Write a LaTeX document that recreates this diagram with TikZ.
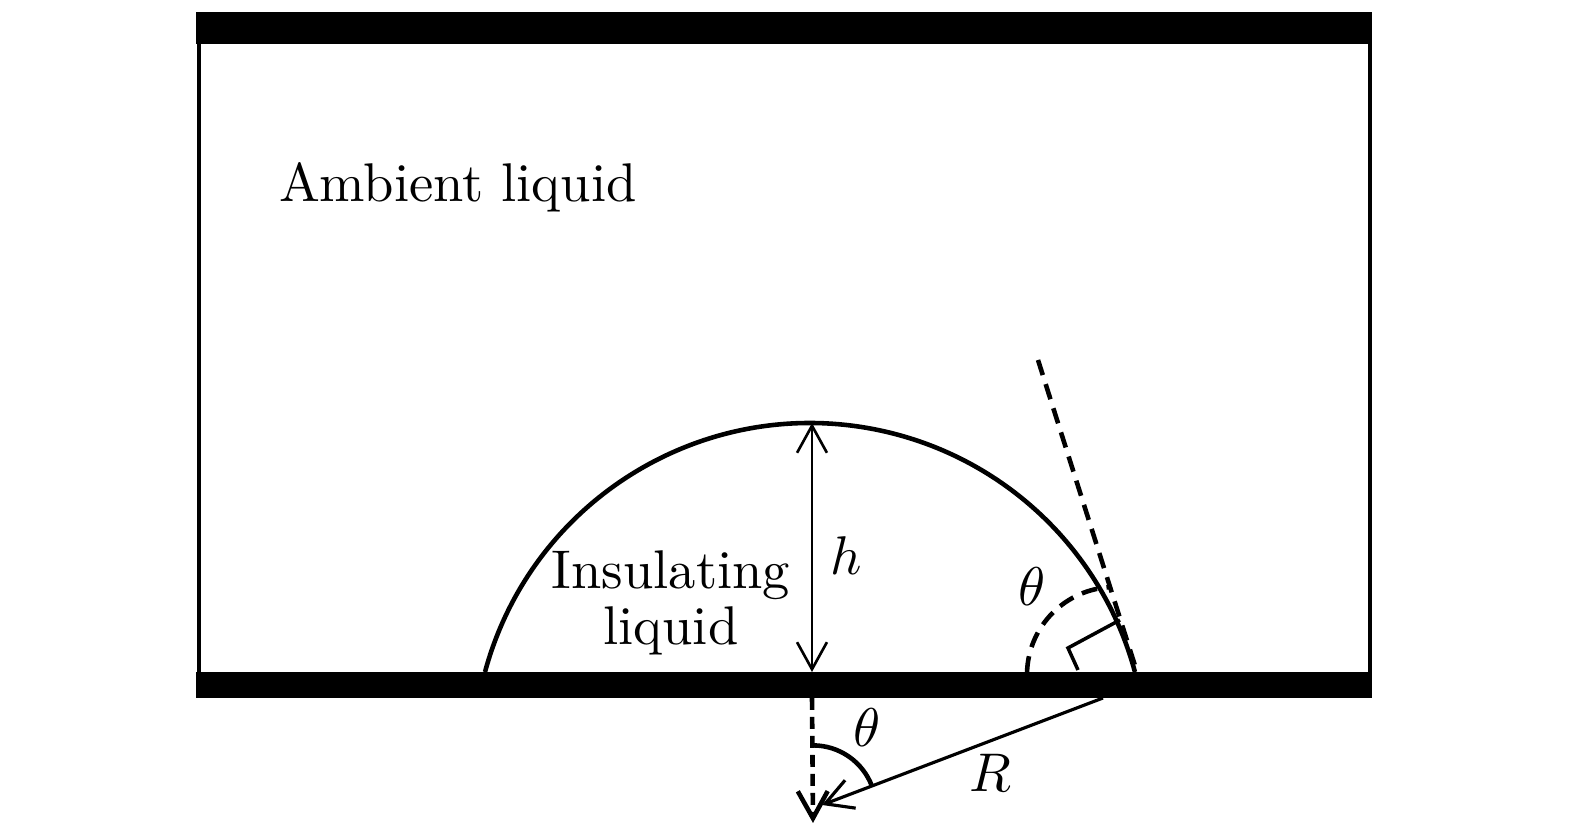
\RequirePackage{fix-cm}
\documentclass[tikz,border=0pt]{standalone}
\usetikzlibrary{arrows.meta}

\begin{document}
\begin{tikzpicture} [
	x=0.01cm, y=0.01cm,
	>={Straight Barb[length=7.7pt,width=8.5pt]},
	plate/.style = {fill=black},
	wall/.style = {line width=1.2pt},
	guide/.style = {line width=1.3pt, dash pattern=on 4.5pt off 2.7pt},
	axisline/.style = {line width=1.3pt, dash pattern=on 3.4pt off 2pt},
	txt/.style = {inner sep=0pt, scale=1.55, font=\fontsize{10}{10.4}\selectfont},
]
\useasboundingbox (0,0) rectangle (1575,837);
% plates and walls
\fill [plate] (196,793) rectangle (1372,825);
\fill [plate] (196,139) rectangle (1372,165);
\draw [wall] (199,165) -- (199,793);
\draw [wall] (1370,165) -- (1370,793);
% drop
\coordinate (foot) at (485,165);
\coordinate (apex) at (812,414);
\coordinate (base) at (812,165);
\coordinate (contact) at (1137,165);
\coordinate (tantop) at (1038,477);
\draw [line width=1.3pt] (foot) arc [start angle=164.9, end angle=15.1, radius=336.6];
\draw [<->, line width=0.75pt] (base) -- (apex);
\draw [guide] (tantop) -- (contact);
\draw [line width=1pt] (1120,217) -- (1068,189) -- (1078,167);
\draw [guide] (1115,162) ++(178:88) arc [start angle=178, end angle=92, radius=88];
% centre and radius
\coordinate (under) at (812,139);
\coordinate (centre) at (813,14);
\coordinate (rfoot) at (1103,139);
\coordinate (rtip) at (822,32);
\draw [->, axisline] (under) -- (centre);
\draw [->, line width=0.9pt] (rfoot) -- (rtip);
\draw [line width=1.3pt] (813,91.6) arc [start angle=90, end angle=20.8, radius=63];
% labels
\node [txt, anchor=base west] (ambient) at (278,635) {Ambient liquid};
\node [txt, align=center] (insul) at (671,234) {Insulating\\liquid};
\node [txt, anchor=base] (hlab) at (846,262) {$h$};
\node [txt, anchor=base] (thtop) at (1032,231) {$\theta$};
\node [txt, anchor=base] (thbot) at (867,90) {$\theta$};
\node [txt, anchor=base] (rlab) at (990,45) {$R$};
\end{tikzpicture}
\end{document}
